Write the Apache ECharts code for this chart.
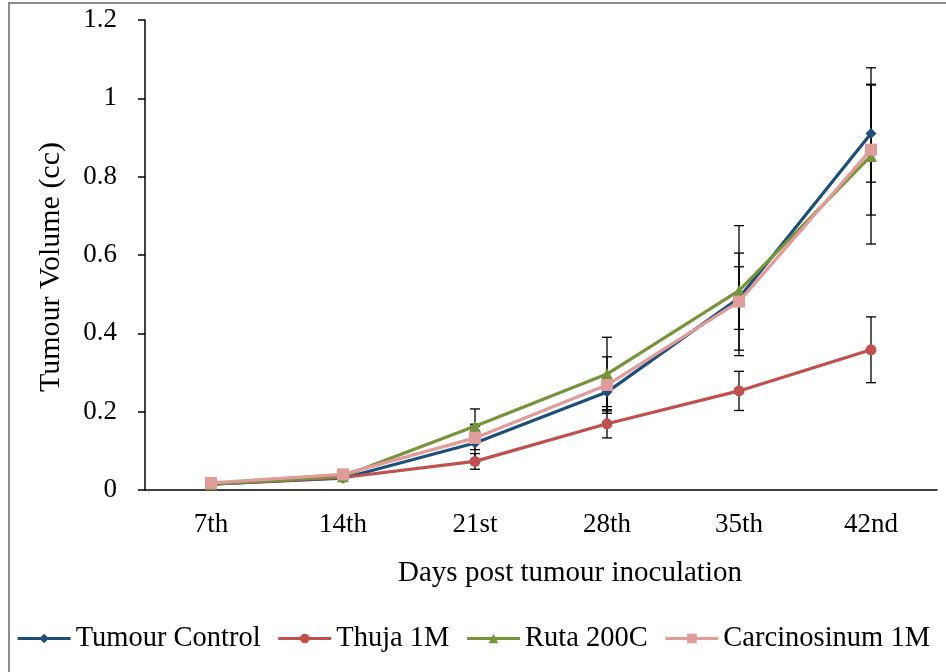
<!DOCTYPE html>
<html><head><meta charset="utf-8">
<script src="https://cdn.jsdelivr.net/npm/echarts@6/dist/echarts.min.js"></script>
<style>html,body{margin:0;padding:0;background:#fff}#c{width:946px;height:672px}</style>
</head><body><div id="c"></div>
<script>
const categories = ['7th','14th','21st','28th','35th','42nd'];
const seriesNames = ['Tumour Control','Thuja 1M','Ruta 200C','Carcinosinum 1M'];
const tumourControl = [0.015, 0.030, 0.120, 0.250, 0.490, 0.910];
const thuja1M      = [0.015, 0.032, 0.073, 0.169, 0.253, 0.358];
const ruta200C     = [0.015, 0.035, 0.163, 0.296, 0.509, 0.853];
const carcinosinum = [0.018, 0.040, 0.133, 0.268, 0.481, 0.869];
const errTumour = [0, 0, 0.048, 0.037, 0.080, 0.124];
const errThuja  = [0, 0, 0.020, 0.036, 0.050, 0.084];
const errRuta   = [0, 0, 0.044, 0.094, 0.166, 0.225];
const errCarc   = [0, 0, 0.030, 0.072, 0.124, 0.167];
const yTicks = {min: 0, max: 1.2, interval: 0.2};

const colors = ['#1F4E7A','#C0504D','#77933C','#E09B9B'];
const symbols = ['diamond','circle','triangle','rect'];
const symSizes = [11, 11, 12, 12];
const values = [tumourControl, thuja1M, ruta200C, carcinosinum];
const errs = [errTumour, errThuja, errRuta, errCarc];

const font = '"Liberation Serif","Times New Roman",serif';
const chart = echarts.init(document.getElementById('c'));

const lineSeries = seriesNames.map((n, i) => ({
  name: n, type: 'line', data: values[i],
  symbol: symbols[i], symbolSize: symSizes[i], showAllSymbol: true,
  lineStyle: {color: colors[i], width: 3.2},
  itemStyle: {color: colors[i]},
  z: 2 + i
}));

const errData = [];
values.forEach((v, s) => v.forEach((y, k) => {
  if (errs[s][k] > 0) errData.push([k, y - errs[s][k], y + errs[s][k]]);
}));

const errSeries = {
  type: 'custom', name: 'err', z: 1, silent: true,
  data: errData,
  renderItem: function (params, api) {
    const x = api.value(0);
    const lo = api.coord([x, api.value(1)]);
    const hi = api.coord([x, api.value(2)]);
    const w = 5;
    const st = {stroke: '#000', lineWidth: 1.3};
    return {type: 'group', children: [
      {type: 'line', shape: {x1: lo[0], y1: lo[1], x2: hi[0], y2: hi[1]}, style: st},
      {type: 'line', shape: {x1: lo[0]-w, y1: lo[1], x2: lo[0]+w, y2: lo[1]}, style: st},
      {type: 'line', shape: {x1: hi[0]-w, y1: hi[1], x2: hi[0]+w, y2: hi[1]}, style: st}
    ]};
  }
};

chart.setOption({
  animation: false,
  backgroundColor: '#fff',
  textStyle: {fontFamily: font},
  grid: {left: 145, right: 9, top: 20, bottom: 182, containLabel: false},
  legend: {
    data: seriesNames, top: 619, left: 'center', itemGap: 16, itemWidth: 53, itemHeight: 12,
    lineStyle: {width: 3.2},
    textStyle: {fontFamily: font, fontSize: 28.5, color: '#000'}
  },
  xAxis: {
    type: 'category', data: categories, boundaryGap: true,
    axisLine: {lineStyle: {color: '#000', width: 1.5}},
    axisTick: {alignWithLabel: true, length: 6, lineStyle: {color: '#000', width: 1.5}},
    axisLabel: {fontFamily: font, fontSize: 27, color: '#000', margin: 21},
    splitLine: {show: false}
  },
  yAxis: {
    type: 'value', min: yTicks.min, max: yTicks.max, interval: yTicks.interval,
    axisLine: {show: true, lineStyle: {color: '#000', width: 1.5}},
    axisTick: {show: true, length: 7, lineStyle: {color: '#000', width: 1.5}},
    axisLabel: {fontFamily: font, fontSize: 27, color: '#000', margin: 28,
      formatter: v => String(Math.round(v * 10) / 10)},
    splitLine: {show: false}
  },
  graphic: [
    {type: 'rect', shape: {x: 9, y: 3, width: 960, height: 700}, style: {fill: 'none', stroke: '#8c8c8c', lineWidth: 2}, z: -1},
    {type: 'text', x: 570, y: 573, style: {text: 'Days post tumour inoculation', font: '29px ' + font, fill: '#000', align: 'center', verticalAlign: 'middle'}},
    {type: 'text', x: 51, y: 267, rotation: Math.PI / 2, style: {text: 'Tumour Volume (cc)', font: '30px ' + font, fill: '#000', align: 'center', verticalAlign: 'middle'}}
  ],
  series: lineSeries.concat([errSeries])
});
</script></body></html>
